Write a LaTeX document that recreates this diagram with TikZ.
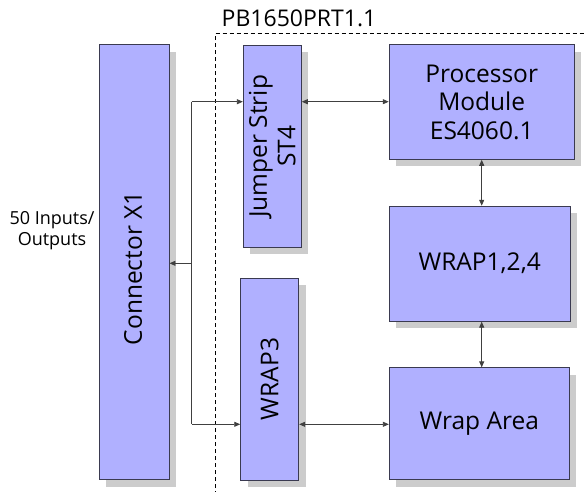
\documentclass[tikz,border=0pt]{standalone}
\usepackage{fontspec}
\setmainfont{Open Sans}
\usetikzlibrary{arrows.meta,shadows,calc}
\definecolor{boxfill}{HTML}{B0B0FF}
\definecolor{boxline}{HTML}{3A3A50}
\definecolor{shade}{HTML}{CCCCCC}
\definecolor{wire}{HTML}{404040}
\tikzset{
  blk/.style={draw=boxline, line width=0.9pt, fill=boxfill, inner sep=0pt, align=center,
     font=\fontsize{24.5}{28.5}\selectfont,
     drop shadow={shadow xshift=7pt, shadow yshift=-7pt, fill=shade, opacity=1}},
  blktext/.style={rotate=90, align=center, inner sep=0pt, font=\fontsize{24.5}{28.5}\selectfont},
  wire/.style={draw=wire, line width=0.8pt},
  mytip/.tip={Triangle[length=6pt,width=5pt]},
}
\begin{document}
\begin{tikzpicture}[x=1pt,y=-1pt]
\useasboundingbox (0,0) rectangle (586,491);
% dashed frame
\draw[dash pattern=on 4pt off 3pt, line width=0.8pt] (215.3,495) -- (215.3,33.3) -- (590,33.3);
\node[anchor=base west, inner sep=0pt, font=\fontsize{23}{25}\selectfont] (title) at (221.5,26) {PB1650PRT1.1};
% blocks
\node[blk, minimum width=70pt, minimum height=435pt] (cx) at (134,262.3) {};
\node[blktext] (cxt) at ($(cx.center)+(-1,6)$) {Connector X1};
\node[blk, minimum width=58pt, minimum height=202pt] (jump) at (272.3,146.3) {};
\node[blktext] (jumpt) at (jump.center) {Jumper Strip\\ST4};
\node[blk, minimum width=58pt, minimum height=202pt] (w3) at (269.7,379) {};
\node[blktext] (w3t) at (w3.center) {WRAP3};
\node[blk, minimum width=185pt, minimum height=114.6pt] (proc) at (481.7,102) {Processor\\Module\\ES4060.1};
\node[blk, minimum width=181pt, minimum height=115pt] (w124) at (479.7,263.7) {WRAP1,2,4};
\node[blk, minimum width=180pt, minimum height=112pt] (wa) at (479.3,423.8) {Wrap Area};
% side label
\node[align=center, inner sep=0pt, font=\fontsize{18}{21}\selectfont] (io) at (52,231) {50 Inputs/\\Outputs};
% connectors
\coordinate (bt) at (191.7,101.7);
\coordinate (bb) at (191.7,424.3);
\coordinate (bm) at (191.7,263.3);
\draw[wire] (bt) -- (bb);
\draw[wire, -mytip] (bt) -- (jump.west |- bt);
\draw[wire, -mytip] (bb) -- (w3.west |- bb);
\draw[wire, -mytip] (bm) -- (cx.east |- bm);
\draw[wire, mytip-mytip] (jump.east |- bt) -- (proc.west |- bt);
\draw[wire, mytip-mytip] (w3.east |- bb) -- (wa.west |- bb);
\draw[wire, mytip-mytip] (proc.south) -- (proc.south |- w124.north);
\draw[wire, mytip-mytip] (w124.south -| proc.south) -- (wa.north -| proc.south);
\end{tikzpicture}
\end{document}
